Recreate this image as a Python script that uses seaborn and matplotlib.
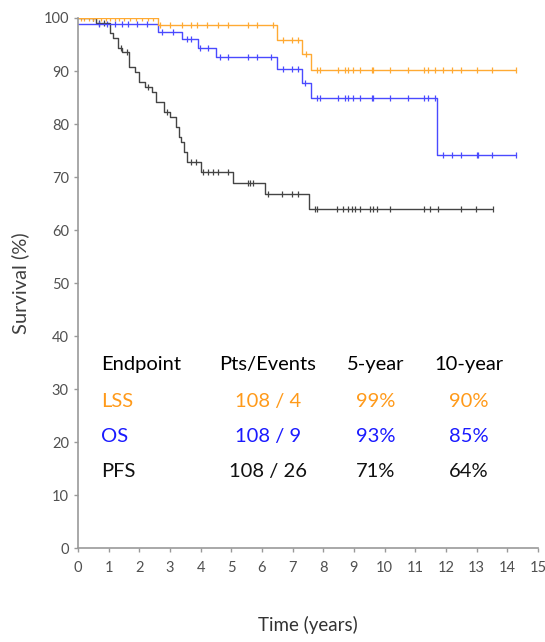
import numpy as np
import pandas as pd
import matplotlib
matplotlib.use("Agg")
import matplotlib.pyplot as plt
import seaborn as sns

# Kaplan-Meier step curves (time in years, survival in %)
lss_t = [0, 2.6, 6.5, 7.3, 7.6, 14.3]
lss_s = [100, 98.7, 95.9, 93.3, 90.1, 90.1]
lss_cens = [0.1, 0.2, 0.35, 0.5, 0.6, 0.75, 0.9, 1.05, 1.2, 1.35, 1.5, 1.7, 1.9, 2.1, 2.3, 2.45,
            2.67, 3.0, 3.4, 3.7, 3.88, 4.2, 4.56, 4.9, 5.55, 5.84, 6.36,
            6.7, 6.98, 7.17, 7.45,
            7.8, 7.9, 8.48, 8.7, 8.8, 8.97, 9.2, 9.6, 9.62, 10.17, 10.76, 11.3, 11.4,
            11.64, 11.9, 12.2, 12.5, 13.0, 13.5, 14.3]

os_t = [0, 2.6, 3.4, 3.9, 4.5, 6.5, 7.3, 7.6, 11.7, 14.3]
os_s = [98.9, 97.4, 96.0, 94.3, 92.7, 90.4, 87.7, 84.9, 74.2, 74.2]
os_cens = [0.7, 0.95, 1.2, 1.43, 1.63, 1.92, 2.25, 2.73, 3.1, 3.55, 3.7, 3.98, 4.24,
           4.63, 4.9, 5.55, 5.84, 6.3, 6.7, 6.98, 7.17, 7.4,
           7.8, 7.9, 8.48, 8.7, 8.8, 8.97, 9.2, 9.6, 9.62, 10.17, 10.76, 11.3, 11.4,
           11.64, 11.9, 12.2, 12.5, 13.0, 13.04, 13.5, 14.3]

pfs_t = [0, 0.6, 1.05, 1.15, 1.3, 1.45, 1.65, 1.85, 2.0, 2.2, 2.4, 2.55, 2.8, 3.0,
         3.2, 3.3, 3.35, 3.45, 3.55, 4.0, 5.05, 6.1, 7.55, 13.5]
pfs_s = [100, 99.1, 97.2, 96.3, 94.4, 93.5, 90.7, 89.8, 87.9, 86.9, 86.0, 84.1, 82.2,
         81.3, 79.4, 77.5, 76.6, 74.7, 72.8, 70.9, 68.9, 66.8, 63.9, 63.9]
pfs_cens = [0.5, 0.7, 0.85, 1.4, 1.6, 2.3, 2.9, 3.7, 3.85, 4.08, 4.24, 4.4, 4.57, 4.9,
            5.55, 5.62, 5.7, 6.2, 6.65, 6.98, 7.17,
            7.73, 7.8, 8.44, 8.64, 8.8, 8.93, 9.03, 9.2, 9.52, 9.62, 9.75, 10.17,
            11.3, 11.48, 11.74, 12.5, 12.98, 13.53]

endpoints = ["LSS", "OS", "PFS"]
pts_events = ["108 / 4", "108 / 9", "108 / 26"]
five_year = ["99%", "93%", "71%"]
ten_year = ["90%", "85%", "64%"]
header = ["Endpoint", "Pts/Events", "5-year", "10-year"]

colors = {"LSS": "#FF9A1A", "OS": "#1A1AFF", "PFS": "#111111"}
line_colors = {"LSS": "#FFAA33", "OS": "#4A4AFF", "PFS": "#444444"}

sns.set_style("white")
plt.rcParams["font.family"] = ["Lato", "DejaVu Sans"]

fig = plt.figure(figsize=(5.45, 6.42), dpi=100)
ax = fig.add_axes([0.143, 0.146, 0.844, 0.826])


def surv_at(t, times, surv):
    idx = np.searchsorted(times, t, side="right") - 1
    return np.asarray(surv)[idx]


curves = [("LSS", lss_t, lss_s, lss_cens), ("OS", os_t, os_s, os_cens),
          ("PFS", pfs_t, pfs_s, pfs_cens)]
for name, t, s, cens in curves[::-1]:
    sns.lineplot(x=t, y=s, drawstyle="steps-post", color=line_colors[name],
                 linewidth=1.0, ax=ax, estimator=None, sort=False)
    cy = surv_at(np.array(cens), np.array(t), s)
    sns.scatterplot(x=cens, y=cy, marker="|", s=22, linewidth=0.9,
                    color=line_colors[name], ax=ax)

ax.set_xlim(0, 15)
ax.set_ylim(0, 100)
ax.set_xticks(range(0, 16))
ax.set_yticks(range(0, 101, 10))
for sp in ["top", "right"]:
    ax.spines[sp].set_visible(False)
for sp in ["left", "bottom"]:
    ax.spines[sp].set_color("#999999")
    ax.spines[sp].set_linewidth(1.2)
ax.tick_params(axis="both", direction="out", length=3, width=1, color="#999999",
               labelsize=10.5, labelcolor="#505050", left=True, bottom=True)
ax.tick_params(axis="x", pad=6)
ax.set_xlabel("Time (years)", fontsize=13.5, color="#333333", labelpad=30)
ax.set_ylabel("Survival (%)", fontsize=14.5, color="#404040", labelpad=10)

# summary table inside the axes
col_x = [0.75, 6.2, 9.7, 12.75]
row_y = [34.7, 27.7, 21.1, 14.5]
fs = 14.5
for j, h in enumerate(header):
    ax.text(col_x[j], row_y[0], h, fontsize=fs, color="black",
            ha="left" if j == 0 else "center", va="center")
for i, name in enumerate(endpoints):
    c = colors[name]
    y = row_y[i + 1]
    kw = dict(fontsize=fs, color=c, va="center")
    ax.text(col_x[0], y, name, ha="left", **kw)
    ax.text(col_x[1], y, pts_events[i], ha="center", **kw)
    ax.text(col_x[2], y, five_year[i], ha="center", **kw)
    ax.text(col_x[3], y, ten_year[i], ha="center", **kw)

fig.savefig("out.png", dpi=100)
